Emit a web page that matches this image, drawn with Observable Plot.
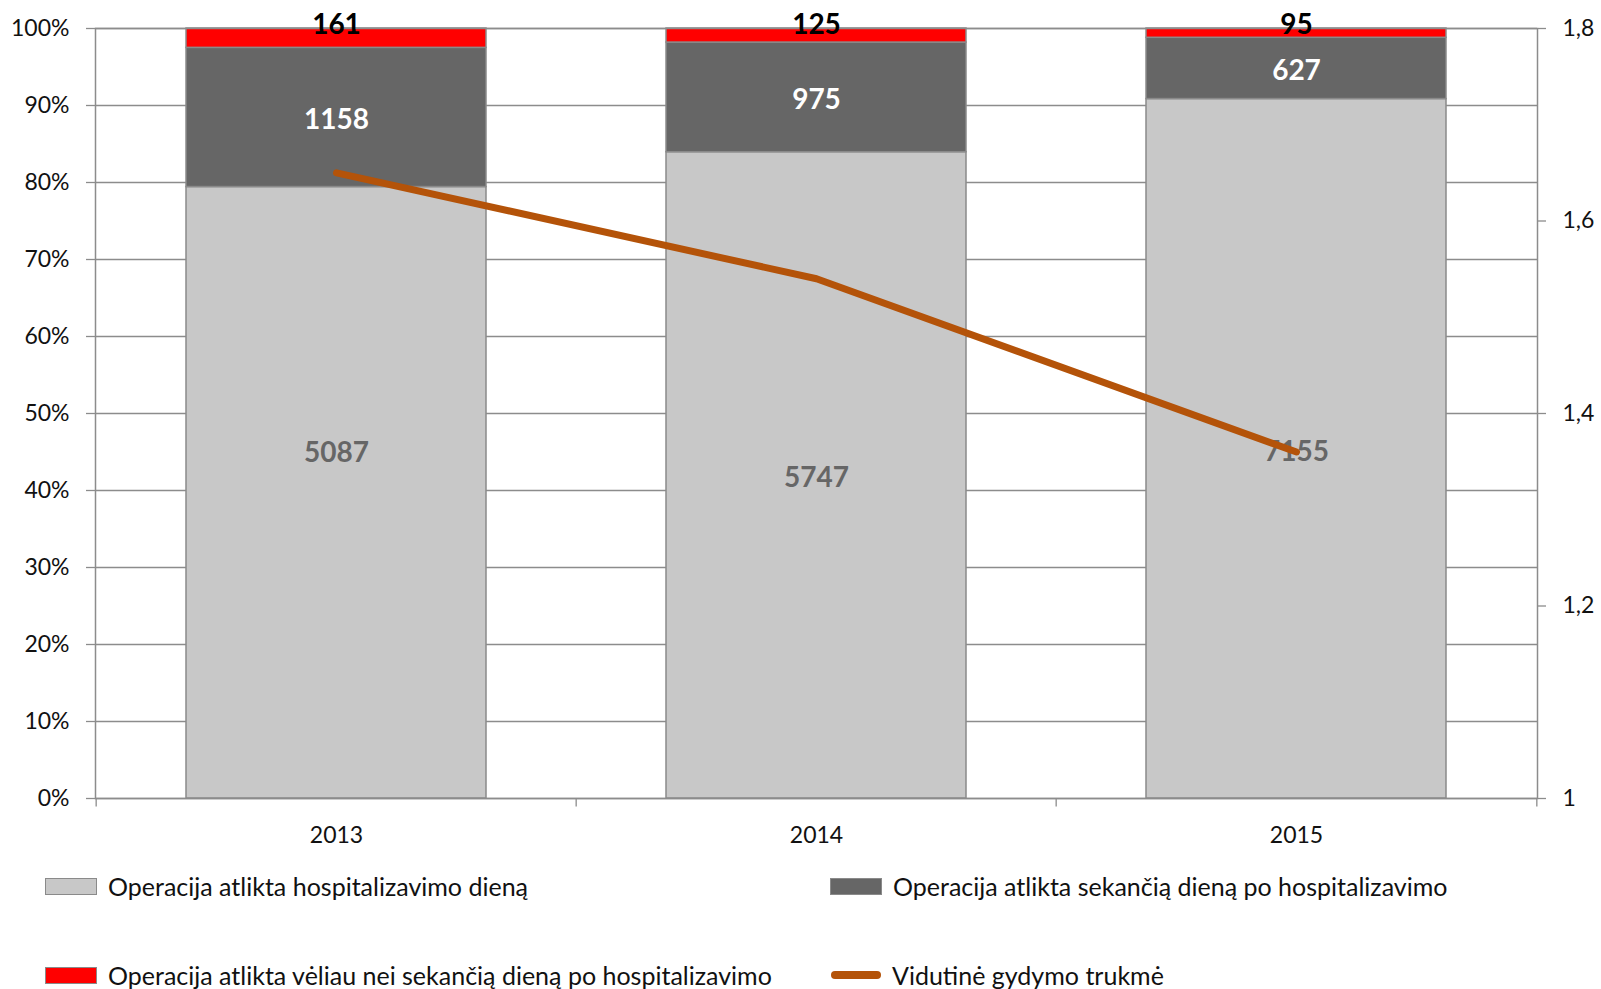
<!DOCTYPE html>
<html><head><meta charset="utf-8">
<script src="https://cdn.jsdelivr.net/npm/d3@7"></script>
<script src="https://cdn.jsdelivr.net/npm/@observablehq/plot@0.6"></script>
<style>
body{margin:0;background:#fff;font-family:Lato, sans-serif;}
#wrap{position:relative;width:1601px;height:989px;overflow:hidden;background:#fff;}
#chart{position:absolute;left:0;top:0;}
.lg{position:absolute;height:30px;display:flex;align-items:center;font-size:25px;color:#111;white-space:nowrap;}
.sw{width:50px;height:15px;border:1px solid #8a8a8a;margin-right:11px;box-sizing:content-box;}
.ln{width:50px;height:8px;border-radius:4px;margin:0 11px 0 1px;}
</style></head><body>
<div id="wrap"><div id="chart"></div><div id="legend"></div></div>
<script>
// ---- data ----
const years = ["2013", "2014", "2015"];
const sameDay = [5087, 5747, 7155];      // Operacija atlikta hospitalizavimo dieną
const nextDay = [1158, 975, 627];        // Operacija atlikta sekančią dieną po hospitalizavimo
const later = [161, 125, 95];            // Operacija atlikta vėliau nei sekančią dieną po hospitalizavimo
const avgStay = [1.65, 1.54, 1.36];      // Vidutinė gydymo trukmė (right axis)
const seriesNames = [
  "Operacija atlikta hospitalizavimo dieną",
  "Operacija atlikta sekančią dieną po hospitalizavimo",
  "Operacija atlikta vėliau nei sekančią dieną po hospitalizavimo",
  "Vidutinė gydymo trukmė"
];
const seriesColors = ["#c8c8c8", "#666666", "#ff0000", "#b45309"];
const pctTicks = [0, 0.1, 0.2, 0.3, 0.4, 0.5, 0.6, 0.7, 0.8, 0.9, 1];
const stayTicks = [1, 1.2, 1.4, 1.6, 1.8];
const stayMin = 1, stayMax = 1.8;

// ---- derived tables ----
const rows = [];
years.forEach((yr, i) => {
  const vals = [sameDay[i], nextDay[i], later[i]];
  const total = d3.sum(vals);
  let acc = 0;
  vals.forEach((v, k) => {
    rows.push({year: yr, k, series: seriesNames[k], value: v,
      y1: acc / total, y2: (acc + v) / total, mid: (acc + v / 2) / total});
    acc += v;
  });
});
const toFrac = v => (v - stayMin) / (stayMax - stayMin);
const lineRows = years.map((yr, i) => ({year: yr, f: toFrac(avgStay[i])}));

const W = 1601, H = 860, ML = 95, MR = 64, MT = 28, MB = H - 798;
const step = (W - ML - MR) / years.length;
const gray = "#8c8c8c";
const fmtStay = t => {
  const v = Math.round((stayMin + t * (stayMax - stayMin)) * 10) / 10;
  return Number.isInteger(v) ? String(v) : v.toFixed(1).replace(".", ",");
};

const plot = Plot.plot({
  width: W, height: H,
  marginLeft: ML, marginRight: MR, marginTop: MT, marginBottom: MB,
  style: {fontFamily: "Lato, sans-serif", fontSize: "23px", color: "#111", background: "#fff"},
  x: {domain: years, paddingInner: 0.375, paddingOuter: 0.1875, axis: null, label: null},
  y: {domain: [0, 1], axis: null, label: null},
  color: {domain: seriesNames.slice(0, 3), range: seriesColors.slice(0, 3)},
  marks: [
    Plot.gridY(pctTicks, {stroke: gray, strokeOpacity: 1, strokeWidth: 1.3}),
    Plot.axisY(pctTicks, {anchor: "left", tickSize: 9, tickPadding: 17, tickFormat: d3.format(".0%"),
      stroke: gray, strokeWidth: 1.3, fill: "#111", fontSize: 23}),
    Plot.axisY(stayTicks.map(toFrac), {anchor: "right", tickSize: 8, tickPadding: 17, tickFormat: fmtStay,
      stroke: gray, strokeWidth: 1.3, fill: "#111", fontSize: 23}),
    Plot.axisX(years, {anchor: "bottom", tickSize: 0, tickPadding: 28, fill: "#111", fontSize: 23}),
    Plot.barY(rows, {x: "year", y1: "y1", y2: "y2", fill: "series", stroke: "#8a8a8a", strokeWidth: 1.5}),
    Plot.frame({stroke: gray, strokeWidth: 1.5}),
    Plot.ruleX(years, {x: d => d, dx: -step / 2, y1: 0, y2: -0.011, stroke: gray, strokeWidth: 1.3}),
    Plot.ruleX([years[years.length - 1]], {x: d => d, dx: step / 2, y1: 0, y2: -0.011, stroke: gray, strokeWidth: 1.3}),
    Plot.text(rows.filter(d => d.k === 0 && d.year !== "2013"), {x: "year", y: "mid", text: d => String(d.value),
      dy: 3, fill: "#666666", fontWeight: "bold", fontSize: 28}),
    Plot.text(rows.filter(d => d.k === 0 && d.year === "2013"), {x: "year", y: "mid", text: d => String(d.value),
      dy: -40, fill: "#666666", fontWeight: "bold", fontSize: 28}),
    Plot.text(rows.filter(d => d.k === 1), {x: "year", y: "mid", text: d => String(d.value),
      dy: 3, fill: "#ffffff", fontWeight: "bold", fontSize: 28}),
    Plot.text(rows.filter(d => d.k === 2), {x: "year", y: "y2", text: d => String(d.value),
      dy: -3, fill: "#000000", fontWeight: "bold", fontSize: 28}),
    Plot.line(lineRows, {x: "year", y: "f", stroke: seriesColors[3], strokeWidth: 7,
      strokeLinecap: "round", strokeLinejoin: "round"})
  ]
});
document.getElementById("chart").appendChild(plot);

// ---- legend ----
const legendPos = [
  {left: 45, top: 871, kind: "box"},
  {left: 830, top: 871, kind: "box"},
  {left: 45, top: 960, kind: "box"},
  {left: 830, top: 960, kind: "line"}
];
const lg = document.getElementById("legend");
seriesNames.forEach((name, i) => {
  const p = legendPos[i];
  const item = document.createElement("div");
  item.className = "lg";
  item.style.left = p.left + "px";
  item.style.top = p.top + "px";
  const sw = document.createElement("div");
  sw.className = p.kind === "line" ? "ln" : "sw";
  sw.style.background = seriesColors[i];
  item.appendChild(sw);
  const t = document.createElement("span");
  t.textContent = name;
  item.appendChild(t);
  lg.appendChild(item);
});
</script>
</body></html>
